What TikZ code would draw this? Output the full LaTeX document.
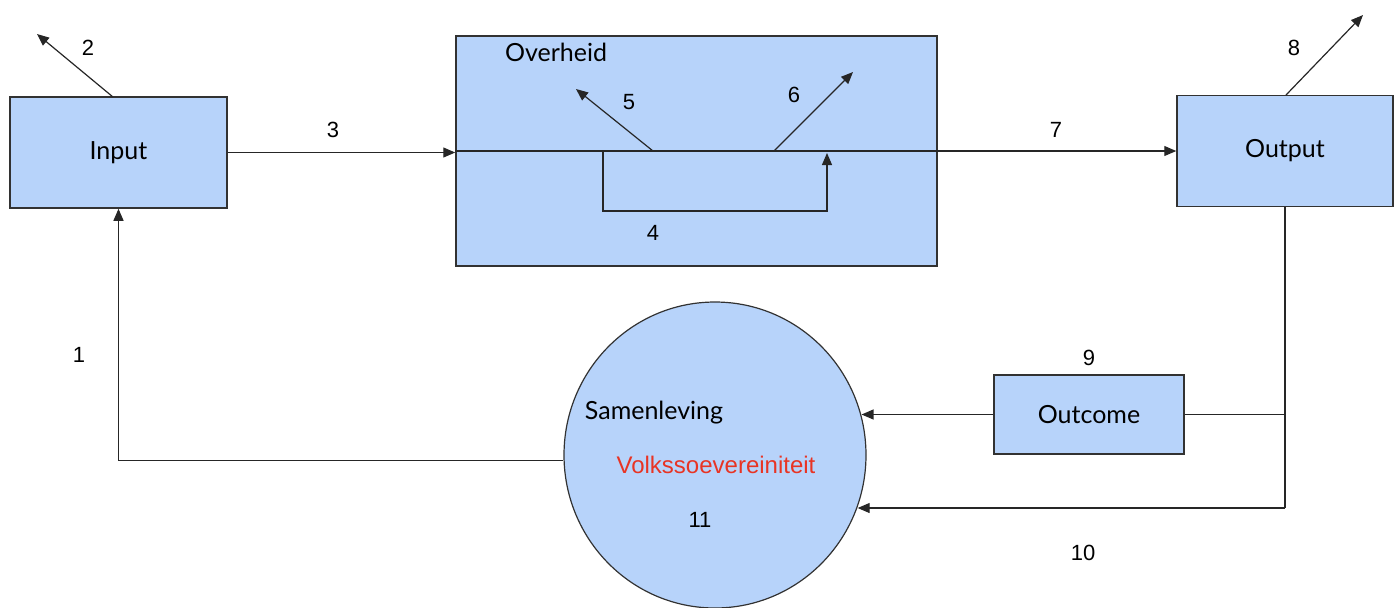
\documentclass[tikz,border=0pt]{standalone}
\usepackage{fontspec}
\setmainfont{Lato}
\newfontfamily\numfont{Liberation Sans}
\usetikzlibrary{shapes.geometric,arrows.meta,calc}
\definecolor{boxblue}{RGB}{183,211,250}
\definecolor{boxline}{RGB}{50,50,50}
\definecolor{volkred}{RGB}{232,52,36}
\tikzset{
  box/.style={draw=boxline,line width=0.75pt,fill=boxblue,inner sep=0pt,font=\fontsize{12.5}{14}\selectfont},
  conn/.style={draw=black!85,line width=0.6pt},
  arr/.style={conn,-{Triangle[length=6pt,width=5pt]}},
  num/.style={font=\numfont\fontsize{11}{13}\selectfont,inner sep=0pt},
  lbl/.style={font=\fontsize{12.5}{14}\selectfont,inner sep=0pt},
}
\begin{document}
\begin{tikzpicture}[x=0.5pt,y=-0.5pt]
\useasboundingbox (0,0) rectangle (1398,607);
% boxes
\node[box,minimum width=108.5pt,minimum height=55.5pt] (Input) at (118.5,152.5) {Input};
\node[box,minimum width=240.5pt,minimum height=115pt] (Over) at (696.5,151) {};
\node[box,minimum width=108pt,minimum height=55.5pt] (Output) at (1285,151) {Output};
\node[box,minimum width=95pt,minimum height=39.5pt] (Outcome) at (1089,414.5) {Outcome};
\node[box,ellipse,minimum width=151pt,minimum height=153pt,line width=0.6pt] (Sam) at (715,455) {};
% texts
\node[lbl] (tOver) at (556,52) {Overheid};
\node[lbl] (tSam) at (654,413) {Samenleving};
\node[font=\numfont\fontsize{12}{14}\selectfont,text=volkred,inner sep=0pt] (tVolk) at (716,465) {Volkssoevereiniteit};
\node[num] (n11) at (700,520) {11};
% coordinates
\coordinate (a2s) at (113,97);
\coordinate (a2e) at (37,34);
\coordinate (a5s) at (653,151);
\coordinate (a5e) at (576,89);
\coordinate (a6s) at (774,151);
\coordinate (a6e) at (853,72);
\coordinate (a8s) at (1286,95);
\coordinate (a8e) at (1363,15);
\coordinate (l1) at (603,151);
\coordinate (l2) at (827,151);
\coordinate (c10) at (1285,508);
% connectors
\draw[arr] (a2s) -- (a2e);
\draw[arr] (Input.east) -- (Input.east -| Over.west);
\draw[arr] (Over.west) -- (Output.west);
\draw[arr] (a5s) -- (a5e);
\draw[arr] (a6s) -- (a6e);
\draw[arr] (l1) -- ++(0,60) -| ($(l2)+(0,2)$);
\draw[arr] (a8s) -- (a8e);
\draw[conn] (Output.south) -- (c10);
\draw[arr] (c10) -- (c10 -| Sam.-20.5);
\draw[conn] (Outcome.east) -- (Outcome.east -| Output.south);
\draw[arr] (Outcome.west) -- (Outcome.west -| Sam.15.5);
\draw[arr] (Sam.182.6) -- (Sam.182.6 -| Input.south) -- (Input.south);
% numbers
\node[num] (n1) at (79,355) {1};
\node[num] (n2) at (88,48) {2};
\node[num] (n3) at (333,130) {3};
\node[num] (n4) at (653,233) {4};
\node[num] (n5) at (629,102) {5};
\node[num] (n6) at (794,95) {6};
\node[num] (n7) at (1056,130) {7};
\node[num] (n8) at (1294,48) {8};
\node[num] (n9) at (1089,358) {9};
\node[num] (n10) at (1083,553) {10};
\end{tikzpicture}
\end{document}
